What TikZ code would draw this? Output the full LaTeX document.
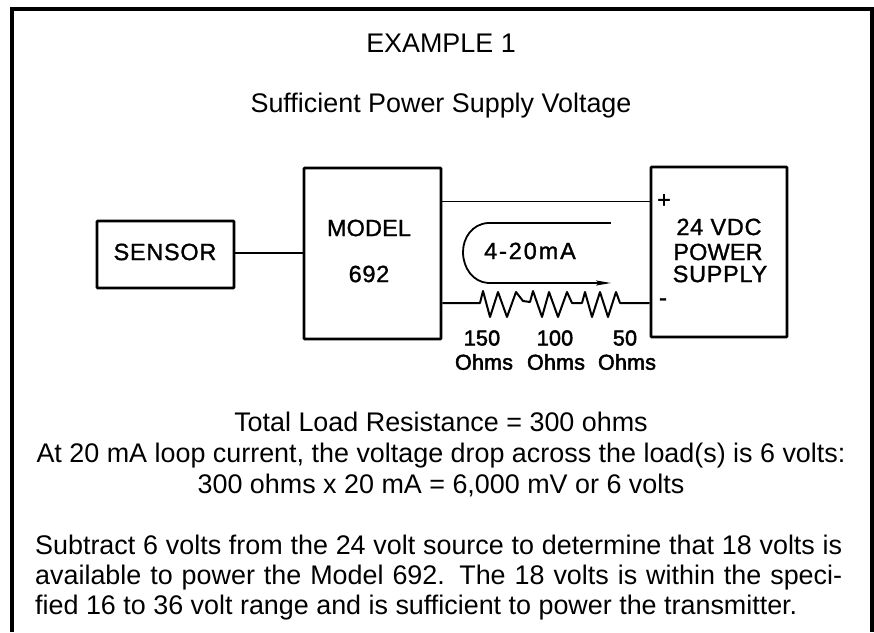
\documentclass[tikz,border=0pt]{standalone}
\usepackage{fontspec}
\setmainfont{Liberation Sans}
\newfontfamily\handfont[FakeBold=1.2,LetterSpace=3]{Liberation Sans}
\newfontfamily\handwide[FakeBold=1.2,LetterSpace=8]{Liberation Sans}
\newfontfamily\handnarrow[FakeBold=1.2,LetterSpace=0.5]{Liberation Sans}
\newfontfamily\handbold[FakeBold=2.4,LetterSpace=1]{Liberation Sans}
\usetikzlibrary{arrows.meta}
\tikzset{
  x=1pt,y=-1pt,
  frameline/.style={line width=4.5pt,line cap=butt,line join=miter},
  boxnode/.style={draw,line width=2.6pt,inner sep=0pt,rounded corners=0.8pt},
  wire/.style={line width=2pt,line join=round},
  thinwire/.style={line width=1.8pt},
  body/.style={font=\fontsize{26.9}{31}\selectfont,inner sep=0pt,anchor=base},
  lefttext/.style={font=\fontsize{26.9}{31}\selectfont,inner sep=0pt,anchor=base west},
  hand/.style={font=\handfont\fontsize{23.5}{26}\selectfont,inner sep=0pt},
  handwidest/.style={font=\handwide\fontsize{23.5}{26}\selectfont,inner sep=0pt},
  handtight/.style={font=\handnarrow\fontsize{23.5}{26}\selectfont,inner sep=0pt},
  handsmall/.style={font=\handbold\fontsize{21.5}{24}\selectfont,inner sep=0pt},
  looptip/.style={-{Stealth[length=15pt,width=5pt,inset=3pt]}},
}
\begin{document}
\begin{tikzpicture}
\useasboundingbox (0,0) rectangle (874,632);
\fill[white] (0,0) rectangle (874,632);
\draw[frameline] (12.2,632) -- (12.2,9.2) -- (871.8,9.2) -- (871.8,632);

\node[body] (title) at (441,52) {EXAMPLE 1};
\node[body] (subtitle) at (441,112) {Sufficient Power Supply Voltage};

\node[boxnode,minimum width=137pt,minimum height=67pt] (sensor) at (165.5,254.5) {};
\node[boxnode,minimum width=137pt,minimum height=171pt] (model) at (372.5,253.5) {};
\node[boxnode,minimum width=136pt,minimum height=170pt] (power) at (719,252) {};

\node[hand] (sensorT) at (165,252) {SENSOR};
\node[handtight] (modelT) at (369,228) {MODEL};
\node[hand] (sixT) at (369,274) {692};
\node[hand] (vdcT) at (719,227) {24 VDC};
\node[handtight] (powT) at (718,252) {POWER};
\node[hand] (supT) at (720,274) {SUPPLY};
\node[handwidest] (loopT) at (530,251) {4-20mA};
\node[hand] (plus) at (664,201) {+};
\node[hand] (minus) at (663,302) {-};

\draw[wire] (sensor.east |- 0,252.5) coordinate (s1) -- (model.west |- s1);
\draw[thinwire] (model.east |- 0,201.5) coordinate (t1) -- (power.west |- t1);
\coordinate (b1) at (model.east |- 0,303);
\coordinate (b2) at (power.west |- b1);
\draw[wire] (b1) -- (480,303) -- (483,291) -- (490,317) -- (498,292) -- (507,317) -- (516,292)
  -- (523,301) -- (530,302) -- (533,291) -- (542,317) -- (549,292) -- (558,317) -- (567,292) -- (572,303)
  -- (582,303) -- (585,292) -- (592,317) -- (600,292) -- (608,317) -- (616,292) -- (620,303) -- (b2);

\coordinate (lt) at (611,223);
\coordinate (lb) at (611,283);
\draw[thinwire,looptip] (488,223) .. controls (472,224) and (463,238) .. (463,252)
  .. controls (463,268) and (473,282) .. (488,283) -- (lb);
\draw[thinwire] (488,223) -- (lt);

\node[handsmall] (r1) at (482,338) {150};
\node[handsmall] (r2) at (555,338) {100};
\node[handsmall] (r3) at (625,338) {50};
\node[handsmall] (o1) at (484,362) {Ohms};
\node[handsmall] (o2) at (556,362) {Ohms};
\node[handsmall] (o3) at (627,362) {Ohms};

\node[body] (l1) at (441,431) {Total Load Resistance = 300 ohms};
\node[body] (l2) at (441,462) {At 20 mA loop current, the voltage drop across the load(s) is 6 volts:};
\node[body] (l3) at (441,493) {300 ohms x 20 mA = 6,000 mV or 6 volts};

\node[lefttext] (p1) at (35,554) {\makebox[807pt][s]{Subtract 6 volts from the 24 volt source to determine that 18 volts is}};
\node[lefttext] (p2) at (35,584) {\makebox[807pt][s]{available to power the Model 692. The 18 volts is within the speci-}};
\node[lefttext] (p3) at (35,614) {fied 16 to 36 volt range and is sufficient to power the transmitter.};
\end{tikzpicture}
\end{document}
